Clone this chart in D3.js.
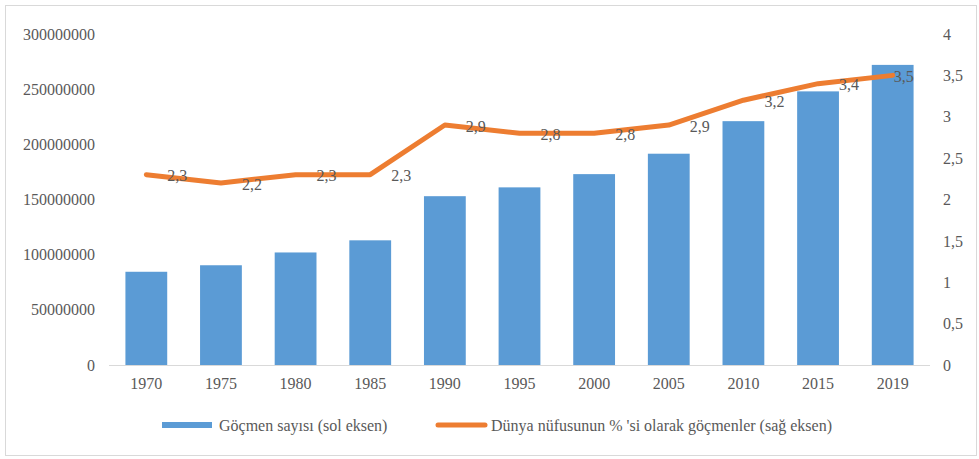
<!DOCTYPE html>
<html><head><meta charset="utf-8">
<script src="https://cdn.jsdelivr.net/npm/d3@7"></script>
<style>body{margin:0;background:#fff}svg{display:block}</style>
</head><body><svg id="c" width="979" height="459"></svg>
<script>
const years = ["1970","1975","1980","1985","1990","1995","2000","2005","2010","2015","2019"];
const migrants = [84500000,90400000,102000000,113000000,153000000,161000000,173000000,191500000,221000000,248000000,272000000];
const percent = [2.3,2.2,2.3,2.3,2.9,2.8,2.8,2.9,3.2,3.4,3.5];
const leftTicks = [0,50000000,100000000,150000000,200000000,250000000,300000000];
const rightTicks = [0,0.5,1,1.5,2,2.5,3,3.5,4];
const seriesNames = ["Göçmen sayısı (sol eksen)","Dünya nüfusunun % 'si olarak göçmenler (sağ eksen)"];
const fmt = v => String(v).replace(".", ",");
const FF = '"Liberation Serif"';
const fs = "16px";
const TC = "#595959";

const svg = d3.select("#c");
svg.append("rect").attr("x",5.5).attr("y",5.5).attr("width",971).attr("height",450).attr("fill","#fff").attr("stroke","#d9d9d9").attr("stroke-width",1);

const L=109, R=930, T=34, B=365;
const x = d3.scaleBand().domain(years).range([L,R]).paddingInner(0.44).paddingOuter(0.22);
const yL = d3.scaleLinear().domain([0,300000000]).range([B,T]);
const yR = d3.scaleLinear().domain([0,4]).range([B,T]);

svg.append("g").selectAll("rect").data(years).join("rect")
  .attr("x",d=>x(d)).attr("width",x.bandwidth())
  .attr("y",(d,i)=>yL(migrants[i])).attr("height",(d,i)=>B-yL(migrants[i]))
  .attr("fill","#5B9BD5");

svg.append("line").attr("x1",L).attr("x2",R).attr("y1",B+0.5).attr("y2",B+0.5).attr("stroke","#d9d9d9").attr("stroke-width",1);

function styleAxis(g){
  g.attr("font-family",null).attr("font-size",null);
  g.select(".domain").remove();
  g.selectAll("text").style("font-family",FF).style("font-size",fs).attr("fill",TC);
}
const gl = svg.append("g").attr("transform",`translate(${L-14},0)`)
  .call(d3.axisLeft(yL).tickValues(leftTicks).tickSize(0).tickPadding(0).tickFormat(d=>String(d)));
styleAxis(gl);

const gr = svg.append("g").attr("transform",`translate(${R+13},0)`)
  .call(d3.axisRight(yR).tickValues(rightTicks).tickSize(0).tickPadding(0).tickFormat(fmt));
styleAxis(gr);

const gb = svg.append("g").attr("transform",`translate(0,${B+12})`)
  .call(d3.axisBottom(x).tickSize(0).tickPadding(0));
styleAxis(gb);
gb.selectAll("text").attr("dy","0.75em");

const line = d3.line().x((d,i)=>x(years[i])+x.bandwidth()/2).y(d=>yR(d));
svg.append("path").datum(percent).attr("d",line).attr("fill","none")
  .attr("stroke","#ED7D31").attr("stroke-width",5).attr("stroke-linejoin","round").attr("stroke-linecap","round");

const last = percent.length - 1;
svg.append("g").selectAll("text").data(percent).join("text")
  .attr("x",(d,i)=>x(years[i])+x.bandwidth()/2+(i===last?1:21)).attr("y",d=>yR(d)+1).attr("dy","0.35em")
  .style("font-family",FF).style("font-size",fs).attr("fill",TC).text(fmt);

// legend
const lg = svg.append("g");
lg.append("rect").attr("x",162).attr("y",422).attr("width",50).attr("height",6).attr("fill","#5B9BD5");
lg.append("text").attr("x",219).attr("y",425).attr("dy","0.35em").style("font-family",FF).style("font-size",fs).attr("fill",TC).text(seriesNames[0]);
lg.append("line").attr("x1",438).attr("x2",485).attr("y1",425).attr("y2",425).attr("stroke","#ED7D31").attr("stroke-width",5).attr("stroke-linecap","round");
lg.append("text").attr("x",491).attr("y",425).attr("dy","0.35em").style("font-family",FF).style("font-size",fs).attr("fill",TC).text(seriesNames[1]);
</script></body></html>
